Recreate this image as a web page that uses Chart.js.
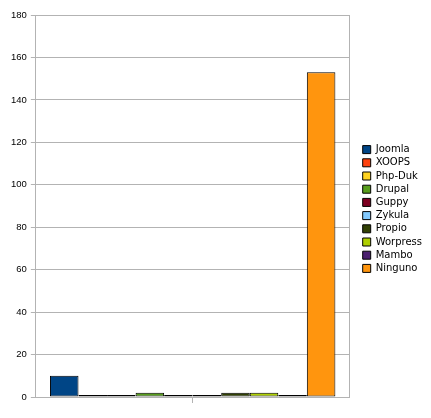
<!DOCTYPE html>
<html>
<head>
<meta charset="utf-8">
<script src="https://cdn.jsdelivr.net/npm/chart.js@4.4.1/dist/chart.umd.min.js"></script>
<style>
  html, body { margin: 0; padding: 0; background: #fff; }
  #wrap { width: 431px; height: 418px; }
</style>
</head>
<body>
<div id="wrap"><canvas id="myChart" width="431" height="418"></canvas></div>
<script>
var categories = [''];
var seriesNames = ['Joomla', 'XOOPS', 'Php-Duk', 'Drupal', 'Guppy', 'Zykula', 'Propio', 'Worpress', 'Mambo', 'Ninguno'];
var seriesValues = [10, 1, 1, 2, 1, 1, 2, 2, 1, 153];
var seriesColors = ['#004586', '#ff420e', '#ffd320', '#579d1c', '#7e0021', '#83caff', '#314004', '#aecf00', '#4b1f6f', '#ff950e'];
var yTicks = [0, 20, 40, 60, 80, 100, 120, 140, 160, 180];

var gridGray = '#b3b3b3';

var datasets = [];
for (var i in seriesNames) {
  datasets.push({
    label: seriesNames[i],
    data: [seriesValues[i]],
    backgroundColor: seriesColors[i],
    borderColor: '#000',
    borderWidth: 1,
    borderSkipped: false
  });
}

var ctx = document.getElementById('myChart').getContext('2d');
var myChart = new Chart(ctx, {
  type: 'bar',
  data: { labels: categories, datasets: datasets },
  options: {
    responsive: false,
    animation: false,
    layout: { padding: { top: 15, left: 7, right: 1, bottom: 15 } },
    datasets: { bar: { categoryPercentage: 0.91, barPercentage: 1 } },
    scales: {
      x: {
        grid: { offset: false, drawOnChartArea: false, color: gridGray, tickLength: 6 },
        border: { color: gridGray },
        ticks: { display: false }
      },
      y: {
        min: 0,
        max: 180,
        afterBuildTicks: function(scale) {
          scale.ticks = yTicks.map(function(v) { return { value: v }; });
        },
        grid: { color: gridGray, tickLength: 5 },
        border: { color: gridGray },
        ticks: { color: '#000', font: { family: 'Liberation Sans', size: 9.5 }, padding: 4 }
      },
      // empty right axis: draws the right frame line and leaves a gap before the legend
      yRight: {
        position: 'right',
        min: 0,
        max: 180,
        grid: { drawOnChartArea: false, drawTicks: false },
        border: { color: gridGray },
        ticks: { display: false },
        afterFit: function(scale) { scale.width = 10; }
      }
    },
    plugins: {
      tooltip: { enabled: false },
      legend: {
        position: 'right',
        labels: {
          boxWidth: 8,
          boxHeight: 8,
          padding: 3.2,
          color: '#000',
          font: { family: 'DejaVu Sans', size: 10 }
        }
      }
    }
  }
});
</script>
</body>
</html>
